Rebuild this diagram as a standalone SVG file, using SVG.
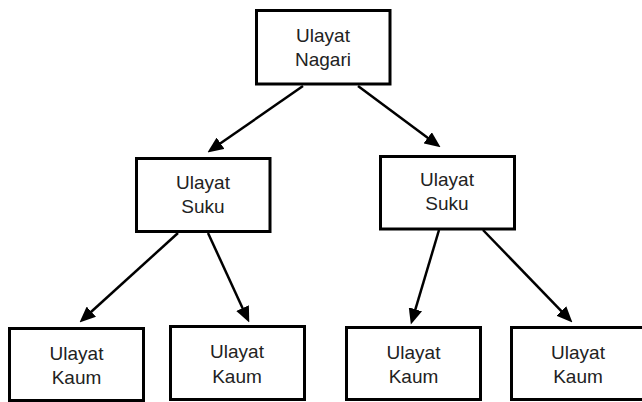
<svg xmlns="http://www.w3.org/2000/svg" width="642" height="402" viewBox="0 0 642 402">
<style>
.box{fill:#fff;stroke:#000;stroke-width:3}
.lbl{font-family:"Liberation Sans",Arial,sans-serif;font-size:19px;fill:#222;text-anchor:middle}
.edge{stroke:#000;stroke-width:2.5;fill:none;marker-end:url(#arr)}
</style>
<defs>
<marker id="arr" markerUnits="userSpaceOnUse" markerWidth="16" markerHeight="14" viewBox="0 0 15 13" refX="5" refY="6.5" orient="auto">
<path d="M0,0 L15,6.5 L0,13 z" fill="#000"/>
</marker>
</defs>
<rect width="642" height="402" fill="#fff"/>
<g id="connectors">
<line class="edge" x1="303" y1="86" x2="216.2" y2="146.3"/>
<line class="edge" x1="358" y1="86" x2="432" y2="141"/>
<line class="edge" x1="178" y1="233" x2="87.4" y2="315.3"/>
<line class="edge" x1="208" y1="233" x2="244.8" y2="312.9"/>
<line class="edge" x1="439" y1="230" x2="413.9" y2="314.4"/>
<line class="edge" x1="483" y1="230" x2="565" y2="314.8"/>
</g>
<g id="nagari">
<rect class="box" x="256.5" y="10.5" width="133.5" height="73.5"/>
<text class="lbl" x="323" y="42">Ulayat</text>
<text class="lbl" x="323" y="66">Nagari</text>
</g>
<g id="suku1">
<rect class="box" x="136.5" y="158.5" width="133.5" height="73"/>
<text class="lbl" x="203" y="189">Ulayat</text>
<text class="lbl" x="203" y="213">Suku</text>
</g>
<g id="suku2">
<rect class="box" x="380.5" y="156.5" width="134" height="72.5"/>
<text class="lbl" x="447" y="186">Ulayat</text>
<text class="lbl" x="447" y="210">Suku</text>
</g>
<g id="kaum1">
<rect class="box" x="9.5" y="328.5" width="134" height="72"/>
<text class="lbl" x="76.5" y="360">Ulayat</text>
<text class="lbl" x="76.5" y="384">Kaum</text>
</g>
<g id="kaum2">
<rect class="box" x="170.5" y="326.5" width="134" height="73"/>
<text class="lbl" x="237" y="358">Ulayat</text>
<text class="lbl" x="237" y="382.5">Kaum</text>
</g>
<g id="kaum3">
<rect class="box" x="346.5" y="327.5" width="134" height="72"/>
<text class="lbl" x="413.5" y="358.5">Ulayat</text>
<text class="lbl" x="413.5" y="383">Kaum</text>
</g>
<g id="kaum4">
<rect class="box" x="511.5" y="327.5" width="134" height="72"/>
<text class="lbl" x="578" y="358.5">Ulayat</text>
<text class="lbl" x="578" y="383">Kaum</text>
</g>
</svg>
